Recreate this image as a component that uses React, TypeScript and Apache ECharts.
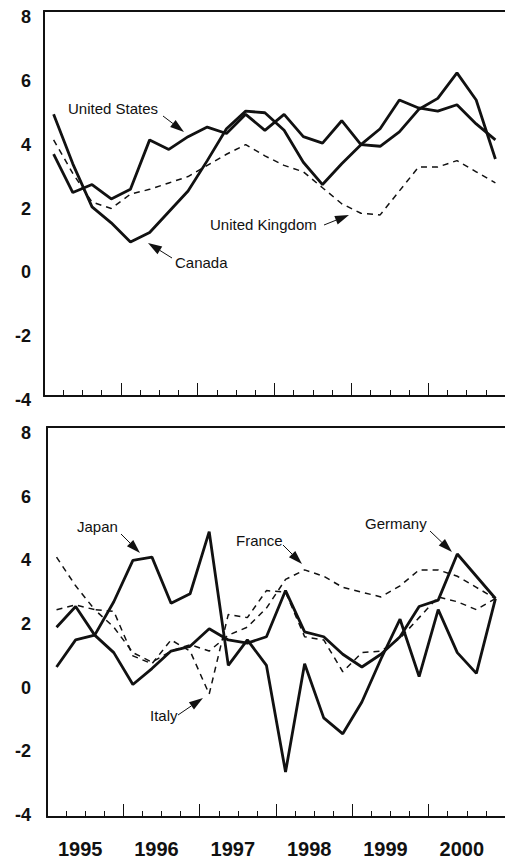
import React, { useEffect, useRef } from "react";
import * as echarts from "echarts";

// Quarterly categories, 1995 Q1 – 2000 Q4
const quarters = [
  "1995Q1", "1995Q2", "1995Q3", "1995Q4",
  "1996Q1", "1996Q2", "1996Q3", "1996Q4",
  "1997Q1", "1997Q2", "1997Q3", "1997Q4",
  "1998Q1", "1998Q2", "1998Q3", "1998Q4",
  "1999Q1", "1999Q2", "1999Q3", "1999Q4",
  "2000Q1", "2000Q2", "2000Q3", "2000Q4",
];
const years = ["1995", "1996", "1997", "1998", "1999", "2000"];

// Top panel
const unitedStates = [3.7, 2.5, 2.75, 2.3, 2.6, 4.15, 3.85, 4.25, 4.55, 4.35, 4.95, 4.45, 4.95, 4.25, 4.05, 4.75, 4.0, 3.95, 4.4, 5.1, 5.45, 6.25, 5.4, 3.55];
const canada = [4.95, 3.4, 2.05, 1.55, 0.95, 1.25, 1.9, 2.55, 3.5, 4.5, 5.05, 5.0, 4.45, 3.45, 2.75, 3.4, 4.0, 4.5, 5.4, 5.15, 5.05, 5.25, 4.65, 4.15];
const unitedKingdom = [4.15, 3.1, 2.2, 2.0, 2.45, 2.6, 2.8, 3.0, 3.35, 3.7, 4.0, 3.65, 3.35, 3.15, 2.65, 2.15, 1.85, 1.8, 2.55, 3.3, 3.3, 3.5, 3.15, 2.8];

// Bottom panel
const japan = [0.65, 1.5, 1.65, 2.7, 4.0, 4.1, 2.65, 2.95, 4.9, 0.7, 1.5, 0.7, -2.65, 0.75, -0.95, -1.45, -0.45, 0.9, 2.15, 0.35, 2.45, 1.1, 0.45, 2.8];
const germany = [1.9, 2.55, 1.65, 1.1, 0.1, 0.6, 1.15, 1.3, 1.85, 1.5, 1.4, 1.6, 3.05, 1.75, 1.6, 1.05, 0.65, 1.05, 1.6, 2.55, 2.75, 4.2, 3.5, 2.8];
const france = [2.45, 2.6, 2.45, 1.9, 1.1, 0.8, 1.15, 1.35, 1.15, 1.65, 1.9, 2.5, 3.4, 3.7, 3.5, 3.15, 3.0, 2.85, 3.2, 3.7, 3.7, 3.5, 3.15, 2.8];
const italy = [4.1, 3.2, 2.45, 2.4, 1.0, 0.75, 1.5, 1.15, -0.2, 2.3, 2.2, 3.05, 3.0, 1.6, 1.5, 0.5, 1.1, 1.15, 1.55, 2.2, 2.85, 2.7, 2.45, 2.8];

const yMin = -4;
const yMax = 8;
const yStep = 2;

const FONT = '"Liberation Sans", Arial, Helvetica, sans-serif';
const INK = "#111";

function arrow(x1: number, y1: number, x2: number, y2: number) {
  const dx = x2 - x1;
  const dy = y2 - y1;
  const len = Math.sqrt(dx * dx + dy * dy);
  const ux = dx / len;
  const uy = dy / len;
  const head = 14;
  const half = 4.5;
  const bx = x2 - ux * head;
  const by = y2 - uy * head;
  return [
    {
      type: "line",
      silent: true,
      shape: { x1, y1, x2: bx, y2: by },
      style: { stroke: INK, lineWidth: 1 },
    },
    {
      type: "polygon",
      silent: true,
      shape: {
        points: [
          [x2, y2],
          [bx - uy * half, by + ux * half],
          [bx + uy * half, by - ux * half],
        ],
      },
      style: { fill: INK },
    },
  ];
}

function label(text: string, x: number, y: number) {
  return {
    type: "text",
    silent: true,
    x,
    y,
    style: {
      text,
      fontSize: 15,
      fontFamily: FONT,
      fill: INK,
      textAlign: "left",
      align: "left",
      textVerticalAlign: "middle",
      verticalAlign: "middle",
    },
  };
}

export default function App() {
  const ref = useRef<HTMLDivElement>(null);

  useEffect(() => {
    if (!ref.current) return;
    const chart = echarts.init(ref.current, undefined, { renderer: "svg" });

    const topLeft = 44;
    const botLeft = 47;
    const plotW = 463;

    const frameX = (gridIndex: number, withLabels: boolean) => [
      {
        type: "category",
        gridIndex,
        position: "bottom",
        data: quarters,
        boundaryGap: true,
        axisLine: { show: true, onZero: false, lineStyle: { color: INK, width: 2 } },
        axisTick: { show: true, inside: true, length: 6, interval: 0, lineStyle: { color: INK, width: 1 } },
        axisLabel: { show: false },
        splitLine: { show: false },
      },
      {
        type: "category",
        gridIndex,
        position: "bottom",
        data: years,
        boundaryGap: true,
        axisLine: { show: false, onZero: false },
        axisTick: { show: true, inside: true, length: 13, interval: 0, lineStyle: { color: INK, width: 1 } },
        axisLabel: withLabels
          ? {
              show: true,
              interval: 0,
              margin: 22,
              color: INK,
              fontSize: 20,
              fontWeight: "bold",
              fontFamily: FONT,
              padding: [0, 10, 0, 0],
            }
          : { show: false },
        splitLine: { show: false },
      },
      {
        type: "category",
        gridIndex,
        position: "top",
        data: quarters,
        boundaryGap: true,
        axisLine: { show: true, onZero: false, lineStyle: { color: INK, width: 2 } },
        axisTick: { show: false },
        axisLabel: { show: false },
        splitLine: { show: false },
      },
    ];

    const dataX = (gridIndex: number) => ({
      type: "category",
      gridIndex,
      data: quarters,
      boundaryGap: true,
      show: false,
    });

    const frameY = (gridIndex: number) => ({
      type: "value",
      gridIndex,
      min: 0,
      max: 1,
      axisLine: { show: true, lineStyle: { color: INK, width: 2 } },
      axisTick: { show: false },
      axisLabel: { show: false },
      splitLine: { show: false },
    });

    const dataY = (gridIndex: number, margin: number) => ({
      type: "value",
      gridIndex,
      min: yMin,
      max: yMax,
      interval: yStep,
      axisLine: { show: false },
      axisTick: { show: false },
      splitLine: { show: false },
      axisLabel: {
        show: true,
        margin,
        color: INK,
        fontSize: 18,
        fontWeight: "bold",
        fontFamily: FONT,
      },
    });

    const solid = (name: string, data: number[], xi: number, yi: number) => ({
      type: "line",
      name,
      data,
      xAxisIndex: xi,
      yAxisIndex: yi,
      symbol: "none",
      lineStyle: { color: INK, width: 2.8, type: "solid" },
      z: 3,
    });
    const dashed = (name: string, data: number[], xi: number, yi: number) => ({
      type: "line",
      name,
      data,
      xAxisIndex: xi,
      yAxisIndex: yi,
      symbol: "none",
      lineStyle: { color: INK, width: 1.5, type: [6, 5] },
      z: 2,
    });

    chart.setOption({
      animation: false,
      backgroundColor: "#fff",
      grid: [
        { left: topLeft, top: 11, width: plotW, height: 385 },
        { left: topLeft, top: 17, width: plotW, height: 383 },
        { left: botLeft, top: 427, width: plotW, height: 390 },
        { left: botLeft, top: 433, width: plotW, height: 382 },
      ],
      xAxis: [
        ...frameX(0, false),
        dataX(1),
        ...frameX(2, true),
        dataX(3),
      ],
      yAxis: [frameY(0), dataY(1, 13), frameY(2), dataY(3, 16)],
      series: [
        solid("United States", unitedStates, 3, 1),
        solid("Canada", canada, 3, 1),
        dashed("United Kingdom", unitedKingdom, 3, 1),
        solid("Japan", japan, 7, 3),
        solid("Germany", germany, 7, 3),
        dashed("France", france, 7, 3),
        dashed("Italy", italy, 7, 3),
      ],
      graphic: [
        label("United States", 68, 108),
        ...arrow(163, 116, 184, 132),
        label("Canada", 175, 262),
        ...arrow(172, 258, 148, 243),
        label("United Kingdom", 210, 224),
        ...arrow(324, 225, 349, 215),
        label("Japan", 77, 526),
        ...arrow(121, 534, 140, 553),
        label("France", 236, 540),
        ...arrow(283, 545, 302, 564),
        label("Germany", 365, 523),
        ...arrow(430, 531, 452, 552),
        label("Italy", 150, 715),
        ...arrow(178, 715, 203, 698),
      ],
    });

    return () => chart.dispose();
  }, []);

  return (
    <div
      ref={ref}
      style={{ position: "absolute", left: 0, top: 0, width: 505, height: 860, background: "#fff" }}
    />
  );
}
